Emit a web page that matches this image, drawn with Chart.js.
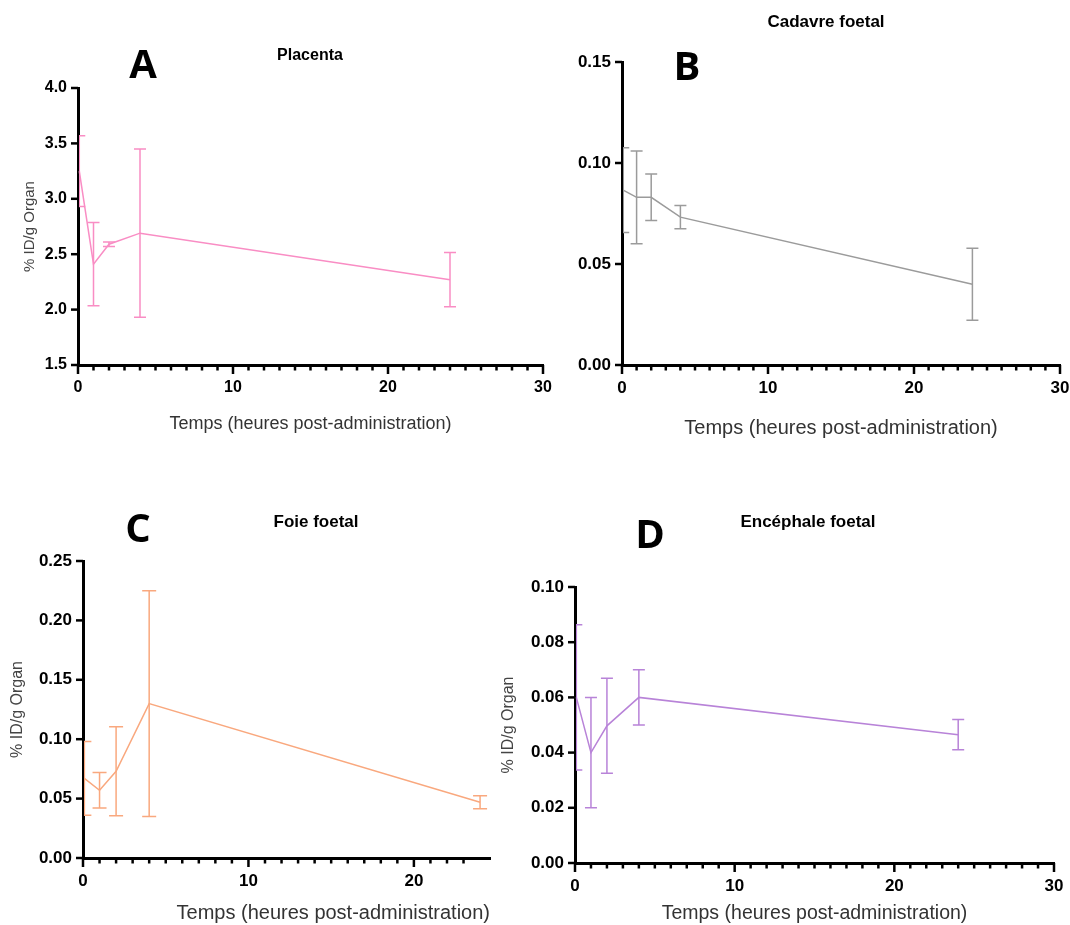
<!DOCTYPE html>
<html>
<head>
<meta charset="utf-8">
<script src="https://cdn.jsdelivr.net/npm/chart.js@4.4.0/dist/chart.umd.min.js"></script>
<style>
  html, body { margin: 0; padding: 0; background: #fff; }
  body { width: 1070px; height: 925px; position: relative; overflow: hidden; font-family: "Liberation Sans", Arial, sans-serif; }
  canvas { position: absolute; }
  .lbl { position: absolute; transform: translate(-50%, -50%); white-space: nowrap; color: #000; font-weight: bold; }
  .letter { font-size: 40px; font-family: "Open Sans", "Liberation Sans", sans-serif; font-weight: 700; }
  .ttl { font-size: 16px; }
</style>
</head>
<body>
<canvas id="cA"></canvas>
<canvas id="cB"></canvas>
<canvas id="cC"></canvas>
<canvas id="cD"></canvas>

<div class="lbl letter" style="left:143px; top:62px;">A</div>
<div class="lbl ttl" style="left:310px; top:55px;">Placenta</div>
<div class="lbl letter" style="left:687px; top:64px;">B</div>
<div class="lbl ttl" style="left:826px; top:22px; font-size:17px;">Cadavre foetal</div>
<div class="lbl letter" style="left:138px; top:526px;">C</div>
<div class="lbl ttl" style="left:316px; top:522px; font-size:17px;">Foie foetal</div>
<div class="lbl letter" style="left:650px; top:532px;">D</div>
<div class="lbl ttl" style="left:808px; top:522px; font-size:17px;">Encéphale foetal</div>

<script>
// ---- data ----
const hours = [0.083, 1, 2, 4, 24];

const placentaMean = [3.25, 2.41, 2.59, 2.69, 2.27];
const placentaSD   = [0.32, 0.375, 0.02, 0.76, 0.245];

const cadavreMean = [0.0866, 0.083, 0.083, 0.0732, 0.040];
const cadavreSD   = [0.021, 0.023, 0.0115, 0.0058, 0.0178];

const foieMean = [0.067, 0.057, 0.073, 0.130, 0.047];
const foieSD   = [0.031, 0.015, 0.0375, 0.095, 0.0055];

const encephaleMean = [0.060, 0.040, 0.0497, 0.060, 0.0465];
const encephaleSD   = [0.0263, 0.020, 0.0172, 0.010, 0.0055];

const yTitle = "% ID/g Organ";
const xTitle = "Temps (heures post-administration)";

// ---- plugins ----
const errorBars = {
  id: 'errorBars',
  afterDatasetsDraw(chart) {
    const {ctx, chartArea} = chart;
    const xs = chart.scales.x, ys = chart.scales.y;
    chart.data.datasets.forEach(ds => {
      if (!ds.sd) return;
      ctx.save();
      ctx.beginPath();
      ctx.rect(chartArea.left + 1, 0, chartArea.right - chartArea.left + 10, chart.height);
      ctx.clip();
      ctx.strokeStyle = ds.borderColor;
      ctx.lineWidth = 1.5;
      ds.data.forEach((p, i) => {
        const x = xs.getPixelForValue(p.x);
        const yt = ys.getPixelForValue(p.y + ds.sd[i]);
        const yb = ys.getPixelForValue(p.y - ds.sd[i]);
        const cw = ds.capHalf || 6;
        ctx.beginPath();
        ctx.moveTo(x, yt); ctx.lineTo(x, yb);
        ctx.moveTo(x - cw, yt); ctx.lineTo(x + cw, yt);
        ctx.moveTo(x - cw, yb); ctx.lineTo(x + cw, yb);
        ctx.stroke();
      });
      ctx.restore();
    });
  }
};

const tickMarks = {
  id: 'tickMarks',
  afterDraw(chart) {
    const {ctx, chartArea} = chart;
    const xs = chart.scales.x, ys = chart.scales.y;
    ctx.save();
    ctx.strokeStyle = '#000';
    ctx.lineWidth = 2.5;
    ctx.lineCap = 'butt';
    xs.ticks.forEach(t => {
      if (Math.abs(t.value - Math.round(t.value)) > 1e-6) return;
      const px = xs.getPixelForValue(t.value);
      const major = Math.abs(t.value % 10) < 1e-9;
      ctx.beginPath();
      ctx.moveTo(px, chartArea.bottom);
      ctx.lineTo(px, chartArea.bottom + (major ? 9 : 5.5));
      ctx.stroke();
    });
    ys.ticks.forEach(t => {
      const py = ys.getPixelForValue(t.value);
      ctx.beginPath();
      ctx.moveTo(chartArea.left, py);
      ctx.lineTo(chartArea.left - 7, py);
      ctx.stroke();
    });
    ctx.restore();
  }
};

function makeChart(id, geo, cfg) {
  const cv = document.getElementById(id);
  cv.style.left = geo.left + 'px';
  cv.style.top = geo.top + 'px';
  cv.width = geo.w; cv.height = geo.h;
  const ca = geo.area; // absolute chart area
  const yW = ca.left - geo.left;
  const xH = geo.xH;
  const padBottom = (geo.top + geo.h) - ca.bottom - xH;
  const fam = '"Liberation Sans", Arial, sans-serif';
  const tickFont = { family: fam, size: cfg.tickSize || 16, weight: 'bold' };
  const yTitleFont = { family: fam, size: cfg.yTitleSize || 15, weight: 'normal' };
  return new Chart(cv, {
    type: 'line',
    data: {
      datasets: [{
        data: hours.map((h, i) => ({ x: h, y: cfg.mean[i] })),
        sd: cfg.sd,
        borderColor: cfg.color,
        borderWidth: 1.5,
        pointRadius: 0,
        tension: 0,
        fill: false,
        clip: false,
        capHalf: cfg.capHalf
      }]
    },
    options: {
      responsive: false,
      animation: false,
      events: [],
      layout: { padding: { left: 0, top: ca.top - geo.top, right: (geo.left + geo.w) - ca.right, bottom: padBottom } },
      plugins: { legend: { display: false }, tooltip: { enabled: false } },
      scales: {
        x: {
          type: 'linear',
          min: 0, max: cfg.xMax,
          afterFit(s) { s.height = xH; s.paddingLeft = 0; s.paddingRight = 0; },
          border: { display: true, color: '#000', width: 3 },
          grid: { display: false, drawTicks: false },
          ticks: {
            stepSize: 1, autoSkip: false, maxRotation: 0,
            color: '#000', font: tickFont, padding: cfg.xTickPad || 13,
            callback: v => (Math.abs(v % 10) < 1e-9 ? String(v) : '')
          },
          title: { display: true, text: xTitle, color: '#333', align: cfg.xTitleAlign || 'center',
                   font: { family: fam, size: cfg.xTitleSize || 18 }, padding: { top: geo.xTitleOff, bottom: 0 } }
        },
        y: {
          type: 'linear',
          min: cfg.yMin, max: cfg.yMax,
          afterFit(s) { s.width = yW; s.paddingTop = 0; s.paddingBottom = 0; },
          border: { display: true, color: '#000', width: 3 },
          grid: { display: false, drawTicks: false },
          ticks: {
            stepSize: cfg.yStep, autoSkip: false,
            color: '#000', font: tickFont, padding: 11,
            callback: v => Number(v).toFixed(cfg.dec)
          },
          title: { display: !!cfg.yTitle, text: yTitle, color: '#444', font: yTitleFont, padding: { top: geo.yTitleOff, bottom: 0 } }
        }
      }
    },
    plugins: [errorBars, tickMarks]
  });
}

makeChart('cA',
  { left: 0, top: 0, w: 560, h: 440, xH: 70, area: { left: 78, right: 543, top: 88, bottom: 365 }, xTitleOff: 4, yTitleOff: 21 },
  { mean: placentaMean, sd: placentaSD, color: '#f98dc4', xMax: 30, yMin: 1.5, yMax: 4.0, yStep: 0.5, dec: 1, yTitle: true, capHalf: 6, tickSize: 16, xTitleSize: 18 });

makeChart('cB',
  { left: 540, top: 0, w: 530, h: 440, xH: 75, area: { left: 622, right: 1060, top: 62, bottom: 365 }, xTitleOff: 4, yTitleOff: 0 },
  { mean: cadavreMean, sd: cadavreSD, color: '#9b9b9b', xMax: 30, yMin: 0, yMax: 0.15, yStep: 0.05, dec: 2, yTitle: false, capHalf: 6, tickSize: 17, xTitleSize: 20 });

makeChart('cC',
  { left: 0, top: 500, w: 492, h: 425, xH: 67, area: { left: 83, right: 490, top: 561, bottom: 858 }, xTitleOff: 4, yTitleOff: 8 },
  { mean: foieMean, sd: foieSD, color: '#f9a87e', xMax: 24.6, yMin: 0, yMax: 0.25, yStep: 0.05, dec: 2, yTitle: true, capHalf: 7, tickSize: 17, xTitleSize: 20, xTitleAlign: 'end', yTitleSize: 16 });

makeChart('cD',
  { left: 490, top: 500, w: 580, h: 425, xH: 62, area: { left: 575, right: 1054, top: 587, bottom: 863 }, xTitleOff: 3, yTitleOff: 9, },
  { mean: encephaleMean, sd: encephaleSD, color: '#b883d8', xMax: 30, yMin: 0, yMax: 0.10, yStep: 0.02, dec: 2, yTitle: true, capHalf: 6, tickSize: 17, xTitleSize: 19.5, yTitleSize: 16 });
</script>
</body>
</html>
